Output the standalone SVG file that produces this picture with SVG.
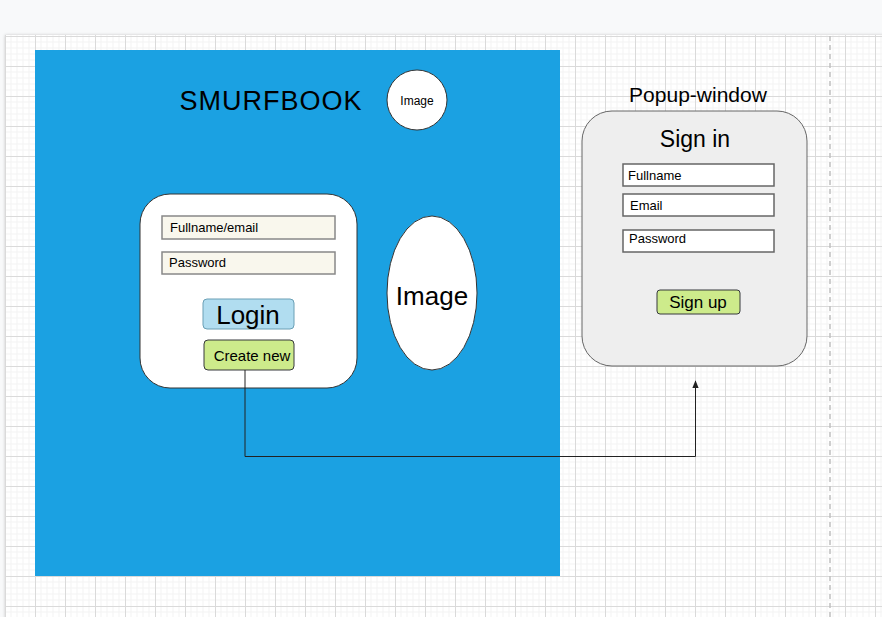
<svg xmlns="http://www.w3.org/2000/svg" width="882" height="617" viewBox="0 0 882 617">
  <style>
    text { font-family: "Liberation Sans", "DejaVu Sans", sans-serif; fill: #000; }
    .mid { text-anchor: middle; }
    .field { fill: #f9f7ed; stroke: #888888; stroke-width: 1.5; }
    .field2 { fill: #ffffff; stroke: #666666; stroke-width: 1.5; }
    .green { fill: #cdeb8b; stroke: #36393d; stroke-width: 1; }
    .conn { fill: none; stroke: #222222; stroke-width: 1; }
  </style>
  <defs>
    <pattern id="grid" x="35" y="36" width="30" height="30" patternUnits="userSpaceOnUse">
      <path d="M6 0V30M12 0V30M18 0V30M24 0V30M0 6H30M0 12H30M0 18H30M0 24H30" stroke="#f3f3f3" stroke-width="1" fill="none"/>
      <path d="M0.5 0V30M0 0.5H30" stroke="#dadada" stroke-width="1" fill="none"/>
    </pattern>
    <marker id="arrow" viewBox="0 0 10 10" refX="9" refY="5" markerWidth="8" markerHeight="8" orient="auto">
      <path d="M0 1 L10 5 L0 9 Z" fill="#222222"/>
    </marker>
    <filter id="shadow" x="-5%" y="-5%" width="110%" height="110%">
      <feDropShadow dx="0" dy="0" stdDeviation="1.5" flood-color="#000" flood-opacity="0.2"/>
    </filter>
  </defs>

  <!-- toolbar strip and page canvas -->
  <rect x="0" y="0" width="882" height="617" fill="#f8f9fa"/>
  <rect x="5" y="35" width="890" height="600" fill="#ffffff" filter="url(#shadow)"/>
  <rect x="5" y="35" width="877" height="582" fill="url(#grid)"/>
  <line x1="830" y1="36" x2="830" y2="617" stroke="#c0c0c0" stroke-width="1.5" stroke-dasharray="5 4"/>

  <!-- main page background -->
  <g id="page">
    <rect x="35" y="50" width="525" height="526" fill="#1ba1e2"/>
  </g>

  <g id="title">
    <text x="271" y="110" class="mid" font-size="27" letter-spacing="1">SMURFBOOK</text>
  </g>

  <g id="logo">
    <circle cx="417" cy="100" r="30" fill="#ffffff" stroke="#333333" stroke-width="1"/>
    <text x="417" y="105" class="mid" font-size="12">Image</text>
  </g>

  <g id="login-panel">
    <rect x="140" y="194" width="217" height="194" rx="30" ry="30" fill="#ffffff" stroke="#333333" stroke-width="1"/>
  </g>

  <g id="fullname-email">
    <rect x="162" y="216" width="173" height="23" class="field"/>
    <text x="170" y="232" font-size="13">Fullname/email</text>
  </g>

  <g id="password">
    <rect x="162" y="252" width="173" height="22" class="field"/>
    <text x="169" y="267" font-size="13">Password</text>
  </g>

  <g id="login-button">
    <rect x="203" y="299" width="91" height="30" rx="4" fill="#b1ddf0" stroke="#6a9fb5" stroke-width="1"/>
    <text x="248" y="324" class="mid" font-size="26">Login</text>
  </g>

  <g id="create-new">
    <rect x="204" y="340" width="90" height="30" rx="4" class="green"/>
    <text x="252" y="361" class="mid" font-size="15">Create new</text>
  </g>

  <g id="hero-image">
    <ellipse cx="432" cy="293" rx="45" ry="77" fill="#ffffff" stroke="#333333" stroke-width="1"/>
    <text x="432" y="305" class="mid" font-size="26">Image</text>
  </g>

  <g id="popup-label">
    <text x="698" y="102" class="mid" font-size="21">Popup-window</text>
  </g>

  <g id="popup">
    <rect x="582" y="111" width="225" height="255" rx="30" ry="30" fill="#eeeeee" stroke="#666666" stroke-width="1"/>
    <text x="695" y="147" class="mid" font-size="23">Sign in</text>
  </g>

  <g id="popup-fullname">
    <rect x="623" y="164" width="151" height="22" class="field2"/>
    <text x="628" y="180" font-size="13">Fullname</text>
  </g>

  <g id="popup-email">
    <rect x="623" y="194" width="151" height="22" class="field2"/>
    <text x="630" y="210" font-size="13">Email</text>
  </g>

  <g id="popup-password">
    <rect x="623" y="230" width="151" height="22" class="field2"/>
    <text x="629" y="243" font-size="13">Password</text>
  </g>

  <g id="sign-up">
    <rect x="657" y="290" width="83" height="24" rx="3" class="green"/>
    <text x="698" y="308" class="mid" font-size="17">Sign up</text>
  </g>

  <!-- connector: Create new opens the sign-up popup -->
  <g id="connectors">
    <path d="M245 370 V456.5 H695.5 V381" class="conn" marker-end="url(#arrow)"/>
  </g>
</svg>
